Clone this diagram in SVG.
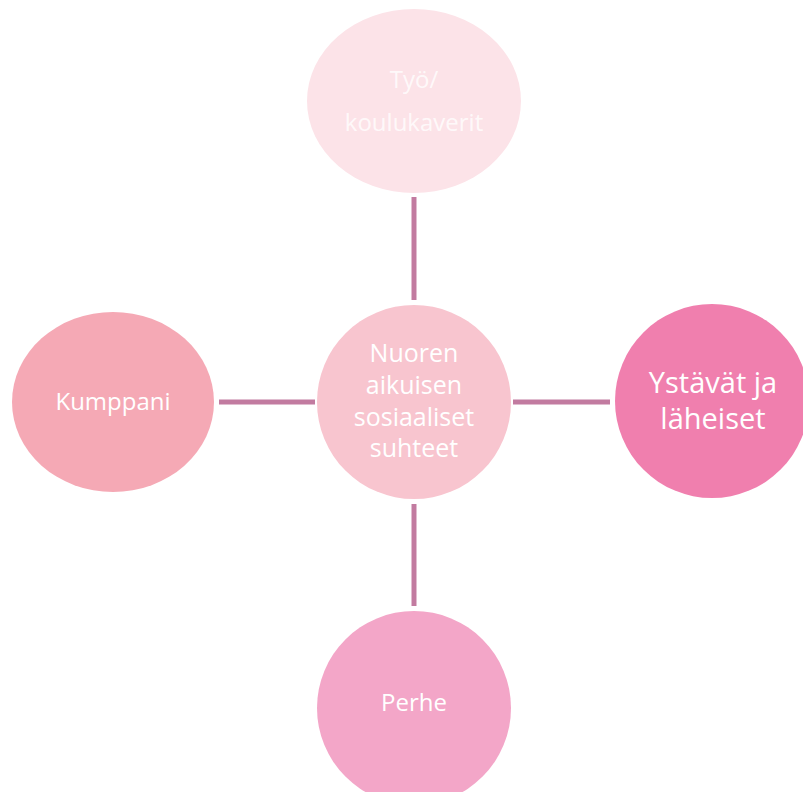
<svg xmlns="http://www.w3.org/2000/svg" width="803" height="792" viewBox="0 0 803 792">
<style>
.t{font-family:"Open Sans","Noto Sans","Liberation Sans",sans-serif;fill:#FFFFFF;text-anchor:middle}
.c{stroke:#C27BA0;stroke-width:5;fill:none}
</style>
<rect width="803" height="792" fill="#FFFFFF"/>
<g id="connectors">
<line class="c" x1="414" y1="197" x2="414" y2="300"/>
<line class="c" x1="414" y1="504" x2="414" y2="606"/>
<line class="c" x1="219" y1="402" x2="315" y2="402"/>
<line class="c" x1="513" y1="402" x2="610" y2="402"/>
</g>
<g id="node-top">
<ellipse cx="414" cy="101" rx="107" ry="92" fill="#FCE3E8"/>
<text class="t" x="414" y="88" font-size="24" fill-opacity="0.8">Työ/</text>
<text class="t" x="414" y="131" font-size="24" fill-opacity="0.8">koulukaverit</text>
</g>
<g id="node-center">
<ellipse cx="414" cy="402" rx="97" ry="97" fill="#F8C5CF"/>
<text class="t" x="414" y="362" font-size="25">Nuoren</text>
<text class="t" x="414" y="394" font-size="25">aikuisen</text>
<text class="t" x="414" y="426" font-size="25">sosiaaliset</text>
<text class="t" x="414" y="457" font-size="25">suhteet</text>
</g>
<g id="node-right">
<ellipse cx="712" cy="401" rx="97" ry="97" fill="#F07FAE"/>
<text class="t" x="713" y="393" font-size="29">Ystävät ja</text>
<text class="t" x="713" y="429" font-size="29">läheiset</text>
</g>
<g id="node-left">
<ellipse cx="113" cy="402" rx="101" ry="90" fill="#F5A9B5"/>
<text class="t" x="113" y="410" font-size="24">Kumppani</text>
</g>
<g id="node-bottom">
<ellipse cx="414" cy="708" rx="97" ry="97" fill="#F3A6C8"/>
<text class="t" x="414" y="711" font-size="24">Perhe</text>
</g>
</svg>
